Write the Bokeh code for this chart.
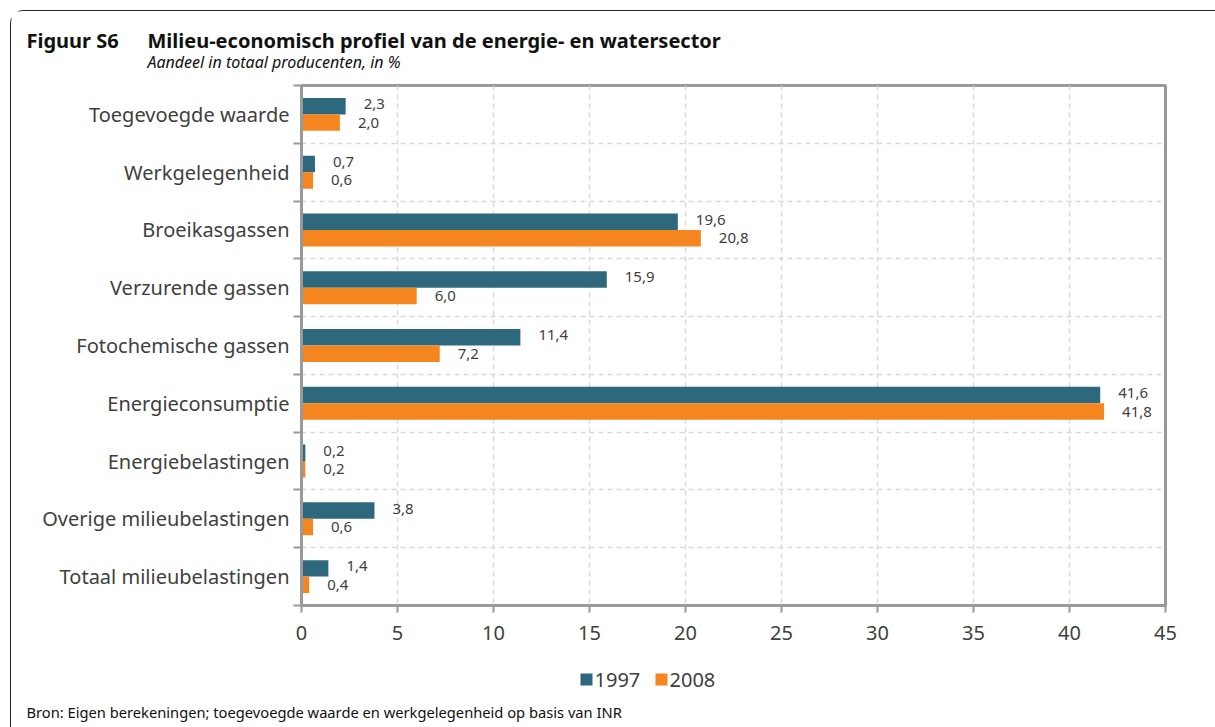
from bokeh.plotting import figure
from bokeh.models import (Range1d, FixedTicker, Label, BoxAnnotation,
                          ColumnDataSource)
from bokeh.layouts import column
from bokeh.core.properties import value
from bokeh.embed import file_html
from bokeh.resources import INLINE

categories = ["Toegevoegde waarde", "Werkgelegenheid", "Broeikasgassen",
              "Verzurende gassen", "Fotochemische gassen", "Energieconsumptie",
              "Energiebelastingen", "Overige milieubelastingen",
              "Totaal milieubelastingen"]
v1997 = [2.3, 0.7, 19.6, 15.9, 11.4, 41.6, 0.2, 3.8, 1.4]
v2008 = [2.0, 0.6, 20.8, 6.0, 7.2, 41.8, 0.2, 0.6, 0.4]
series_names = ["1997", "2008"]
x_ticks = [0, 5, 10, 15, 20, 25, 30, 35, 40, 45]

title_num = "Figuur S6"
title_main = "Milieu-economisch profiel van de energie- en watersector"
subtitle = "Aandeel in totaal producenten, in %"
source_txt = "Bron: Eigen berekeningen; toegevoegde waarde en werkgelegenheid op basis van INR"

TEAL = "#2E687D"
ORANGE = "#F5851F"
TXT = "#404040"
FONT = "Noto Sans"
GRAY = "#999999"
W = 1204
H_HEAD, H_MAIN, H_FOOT = 69, 575, 72

n = len(categories)
pos = list(range(1, n + 1))
bar_h = 0.285


def blank(h):
    f = figure(width=W, height=h, output_backend="svg", toolbar_location=None,
               x_range=Range1d(0, W), y_range=Range1d(0, h),
               x_axis_type=None, y_axis_type=None,
               min_border_left=0, min_border_right=0, min_border_top=0,
               min_border_bottom=0, background_fill_color="white",
               border_fill_color="white")
    f.outline_line_color = None
    f.xgrid.visible = False
    f.ygrid.visible = False
    return f


# ---------- header ----------
head = blank(H_HEAD)
head.add_layout(Label(x=15, y=40, text=title_num, text_font=FONT,
                      text_font_size="20px", text_font_style="bold",
                      text_color="#111111", text_baseline="middle"))
head.add_layout(Label(x=136, y=40, text=title_main, text_font=FONT,
                      text_font_size="20px", text_font_style="bold",
                      text_color="#111111", text_baseline="middle"))
head.add_layout(Label(x=136, y=19, text=subtitle, text_font=FONT,
                      text_font_size="16px", text_font_style="italic",
                      text_color="#111111", text_baseline="middle"))

# ---------- main chart ----------
p = figure(width=W, height=H_MAIN, output_backend="svg", toolbar_location=None,
           x_range=Range1d(0, 45), y_range=Range1d(n + 0.5, 0.5),
           min_border_left=290, min_border_right=50, min_border_top=5,
           min_border_bottom=50, background_fill_color="white",
           border_fill_color="white")
p.outline_line_color = GRAY
p.outline_line_width = 3

src1 = ColumnDataSource(dict(
    y=[c - bar_h / 2 for c in pos], v=v1997,
    lab=[f"{v:.1f}".replace(".", ",") for v in v1997]))
src2 = ColumnDataSource(dict(
    y=[c + bar_h / 2 for c in pos], v=v2008,
    lab=[f"{v:.1f}".replace(".", ",") for v in v2008]))

p.hbar(y="y", left=0, right="v", height=bar_h, source=src1,
       fill_color=TEAL, line_color=None)
p.hbar(y="y", left=0, right="v", height=bar_h, source=src2,
       fill_color=ORANGE, line_color=None)

for src, dy in ((src1, -2), (src2, 0)):
    p.text(x="v", y="y", text="lab", source=src, x_offset=18, y_offset=dy,
           text_font=value(FONT), text_font_size="15px", text_color=TXT,
           text_align="left", text_baseline="middle")

xa = p.xaxis[0]
xa.ticker = FixedTicker(ticks=x_ticks)
xa.axis_line_color = GRAY
xa.axis_line_width = 3
xa.major_tick_line_color = GRAY
xa.major_tick_line_width = 2
xa.major_tick_out = 7
xa.major_tick_in = 0
xa.minor_tick_line_color = None
xa.major_label_text_font = FONT
xa.major_label_text_font_size = "20px"
xa.major_label_text_color = TXT
xa.major_label_standoff = 13

ya = p.yaxis[0]
ya.ticker = FixedTicker(ticks=pos, minor_ticks=[c + 0.5 for c in range(0, n + 1)])
ya.major_label_overrides = {c: categories[i] for i, c in enumerate(pos)}
ya.axis_line_color = GRAY
ya.axis_line_width = 3
ya.major_tick_line_color = None
ya.major_tick_out = 0
ya.major_tick_in = 0
ya.minor_tick_line_color = GRAY
ya.minor_tick_line_width = 2
ya.minor_tick_out = 8
ya.minor_tick_in = 0
ya.major_label_text_font = FONT
ya.major_label_text_font_size = "20px"
ya.major_label_text_color = TXT
ya.major_label_standoff = 4

p.xgrid.ticker = FixedTicker(ticks=x_ticks)
p.xgrid.grid_line_color = "#d9d9d9"
p.xgrid.grid_line_dash = "5 4"
p.xgrid.grid_line_width = 1.5
p.ygrid.ticker = FixedTicker(ticks=[c + 0.5 for c in range(1, n)])
p.ygrid.grid_line_color = "#d9d9d9"
p.ygrid.grid_line_dash = "5 4"
p.ygrid.grid_line_width = 1.5

# ---------- footer: legend + source ----------
foot = blank(H_FOOT)
legend_x = [569, 644]
for lx, name, col in zip(legend_x, series_names, (TEAL, ORANGE)):
    foot.add_layout(BoxAnnotation(left=lx, right=lx + 12, bottom=42, top=54,
                                  fill_color=col, fill_alpha=1, line_color=None))
    foot.add_layout(Label(x=lx + 14, y=48, text=name, text_font=FONT,
                          text_font_size="20px", text_color=TXT,
                          text_baseline="middle"))
foot.add_layout(Label(x=15, y=16, text=source_txt, text_font=FONT,
                      text_font_size="14.7px", text_color="#111111",
                      text_baseline="middle"))

layout = column(column(head), column(p), column(foot), spacing=0,
                styles={"margin-left": "10px", "margin-top": "10px",
                        "border-top": "1px solid #222222",
                        "border-left": "1px solid #222222",
                        "border-top-left-radius": "14px"})

open("out.html", "w").write(file_html(layout, INLINE))
